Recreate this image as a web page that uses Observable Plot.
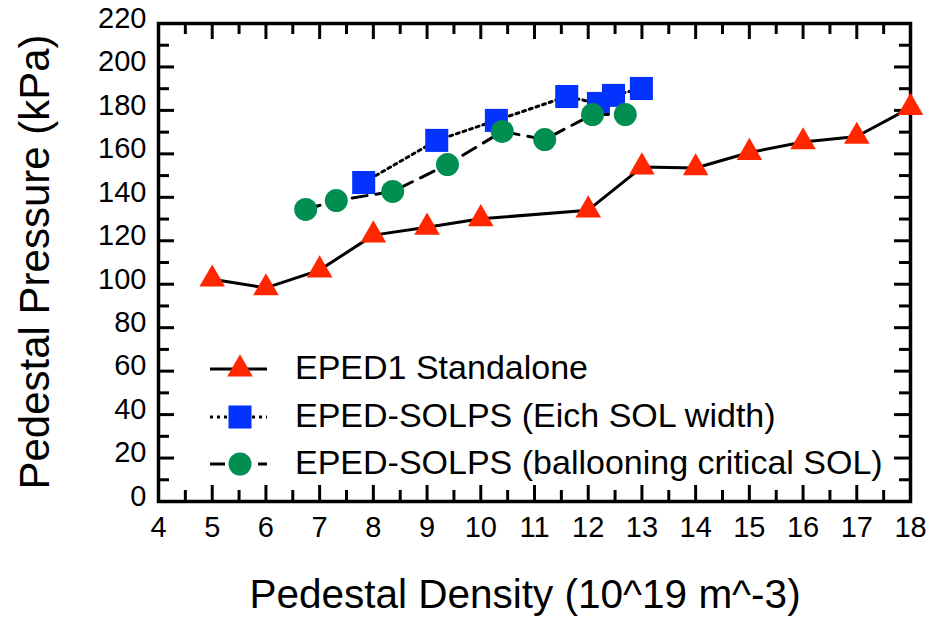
<!DOCTYPE html>
<html><head><meta charset="utf-8">
<script src="https://cdn.jsdelivr.net/npm/d3@7"></script>
<script src="https://cdn.jsdelivr.net/npm/@observablehq/plot@0.6"></script>
<style>
html,body{margin:0;padding:0;background:#fff;}
#chart{width:928px;height:618px;}
</style></head><body><div id="chart"></div>
<script>
// ---- data ----
const epedX = [5, 6, 7, 8, 9, 10, 12, 13, 14, 15, 16, 17, 18];
const epedY = [102.3, 98.3, 106.5, 122.6, 126.2, 130.1, 134.1, 153.9, 153.5, 160.6, 165.5, 168, 181.3];
const eichX = [7.82, 9.18, 10.29, 11.6, 12.19, 12.47, 12.99];
const eichY = [146.8, 166.2, 175.4, 186.4, 183.2, 186.9, 190.1];
const ballX = [6.74, 7.31, 8.36, 9.38, 10.4, 11.19, 12.08, 12.69];
const ballY = [134.4, 138.5, 142.7, 155.1, 170.3, 166.6, 178.1, 178.1];
const seriesNames = ["EPED1 Standalone", "EPED-SOLPS (Eich SOL width)", "EPED-SOLPS (ballooning critical SOL)"];
const xTicks = [4, 5, 6, 7, 8, 9, 10, 11, 12, 13, 14, 15, 16, 17, 18];
const yTicks = [0, 20, 40, 60, 80, 100, 120, 140, 160, 180, 200, 220];
const xMinor = [4.5, 5.5, 6.5, 7.5, 8.5, 9.5, 10.5, 11.5, 12.5, 13.5, 14.5, 15.5, 16.5, 17.5];
const yMinor = [10, 30, 50, 70, 90, 110, 130, 150, 170, 190, 210];
const xTitle = "Pedestal Density (10^19 m^-3)";
const yTitle = "Pedestal Pressure (kPa)";

// ---- styles ----
const FONT = "'Liberation Sans', Arial, Helvetica, sans-serif";
const colors = ["#ff2600", "#0433ff", "#008f51"];
const dashes = [null, "3,4", "15,9"];
const W = 928, H = 618, mL = 158, mR = 18, mT = 23, mB = 117;
const fw = W - mL - mR, fh = H - mT - mB;
const MAJ = 16, MIN = 11;
const rTri = 9.5, rSq = 13, rCir = 11.5;

const eped = epedX.map((x, i) => ({x, y: epedY[i]}));
const eich = eichX.map((x, i) => ({x, y: eichY[i]}));
const ball = ballX.map((x, i) => ({x, y: ballY[i]}));

const tk = {stroke: "#000", strokeWidth: 3};
const plot = Plot.plot({
  width: W, height: H,
  marginLeft: mL, marginRight: mR, marginTop: mT, marginBottom: mB,
  style: {fontFamily: FONT, fontSize: "29px", color: "#000", background: "#fff"},
  x: {domain: [4, 18]},
  y: {domain: [0, 220]},
  marks: [
    Plot.axisX(xTicks, {tickSize: 0, tickPadding: 15, fontSize: 29, label: null}),
    Plot.axisY(yTicks, {tickSize: 0, tickPadding: 12, dy: -5, fontSize: 29, label: null}),
    // inward ticks on all four sides
    Plot.tickX(xTicks, {x: d => d, insetTop: fh - MAJ, ...tk}),
    Plot.tickX(xTicks, {x: d => d, insetBottom: fh - MAJ, ...tk}),
    Plot.tickX(xMinor, {x: d => d, insetTop: fh - MIN, ...tk}),
    Plot.tickX(xMinor, {x: d => d, insetBottom: fh - MIN, ...tk}),
    Plot.tickY(yTicks, {y: d => d, insetRight: fw - MAJ, ...tk}),
    Plot.tickY(yTicks, {y: d => d, insetLeft: fw - MAJ, ...tk}),
    Plot.tickY(yMinor, {y: d => d, insetRight: fw - MIN, ...tk}),
    Plot.tickY(yMinor, {y: d => d, insetLeft: fw - MIN, ...tk}),
    Plot.frame({stroke: "#000", strokeWidth: 3.5}),
    // series
    Plot.line(eped, {x: "x", y: "y", stroke: "#000", strokeWidth: 3}),
    Plot.dot(eped, {x: "x", y: "y", symbol: "triangle", r: rTri, fill: colors[0], stroke: "none"}),
    Plot.line(eich, {x: "x", y: "y", stroke: "#000", strokeWidth: 3, strokeDasharray: dashes[1]}),
    Plot.dot(eich, {x: "x", y: "y", symbol: "square", r: rSq, fill: colors[1], stroke: "none"}),
    Plot.line(ball, {x: "x", y: "y", stroke: "#000", strokeWidth: 3, strokeDasharray: dashes[2]}),
    Plot.dot(ball, {x: "x", y: "y", symbol: "circle", r: rCir, fill: colors[2], stroke: "none"})
  ]
});
document.getElementById("chart").appendChild(plot);

// ---- titles & legend ----
const svg = d3.select(plot);
svg.append("text").attr("x", 525).attr("y", 608).attr("text-anchor", "middle")
  .attr("font-family", FONT).attr("font-size", 40.5).attr("fill", "#000").text(xTitle);
svg.append("text").attr("transform", "translate(49,262) rotate(-90)").attr("text-anchor", "middle")
  .attr("font-family", FONT).attr("font-size", 42).attr("fill", "#000").text(yTitle);

const symbols = [d3.symbolTriangle, d3.symbolSquare, d3.symbolCircle];
const radii = [rTri, rSq, rCir];
const rowsY = [369, 417, 464];
const lg = svg.append("g");
seriesNames.forEach((name, i) => {
  const y = rowsY[i];
  const l = lg.append("line").attr("x1", 210).attr("x2", 267).attr("y1", y).attr("y2", y)
    .attr("stroke", "#000").attr("stroke-width", 3);
  if (dashes[i]) l.attr("stroke-dasharray", dashes[i]);
  lg.append("path").attr("transform", `translate(240,${y})`)
    .attr("d", d3.symbol(symbols[i], Math.PI * radii[i] * radii[i])())
    .attr("fill", colors[i]);
  lg.append("text").attr("x", 295).attr("y", y + 10).attr("text-anchor", "start")
    .attr("font-family", FONT).attr("font-size", 34).attr("fill", "#000").text(name);
});
</script>
</body></html>
